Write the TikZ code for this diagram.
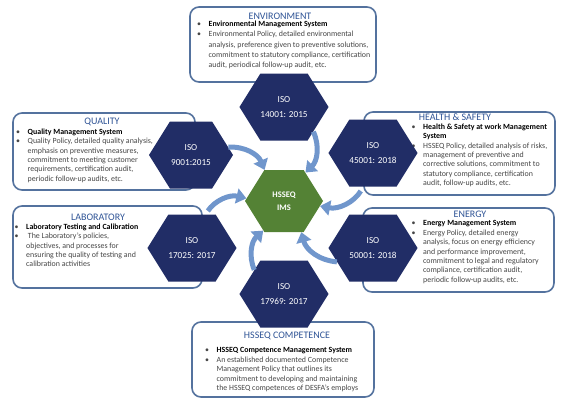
\documentclass[tikz,border=0pt]{standalone}
\usepackage{fontspec}
\setmainfont{Carlito}
\usetikzlibrary{shapes.symbols,arrows.meta}
\definecolor{navy}{RGB}{33,45,102}
\definecolor{leaf}{RGB}{84,130,53}
\definecolor{sky}{RGB}{112,150,204}
\definecolor{frame}{RGB}{84,114,158}
\definecolor{head}{RGB}{47,84,150}
\definecolor{ink}{RGB}{70,70,70}
\newcommand\bul{\makebox[11.5pt][l]{\textbullet}}
\newcommand\ind{\hspace*{11.5pt}}
\newcommand\hd[1]{\textcolor{black}{\textbf{#1}}}
\tikzset{hexa/.style={signal,signal to=east and west,signal pointer angle=116,minimum width=84pt,minimum height=67pt,inner sep=0pt,fill=navy,text=white,font=\fontsize{9.2}{14.5}\selectfont,align=center},
  card/.style={draw=frame,line width=1.6pt,rounded corners=9pt,fill=white,inner sep=0pt},
  cardtitle/.style={text=head,font=\fontsize{10}{12}\selectfont,inner sep=0pt},
  body/.style={text=ink,font=\fontsize{7.9}{9.4}\selectfont,align=left,inner sep=0pt,anchor=north west},
  flow/.style={sky,line width=5pt,-{Triangle[width=15pt,length=10pt]},bend left=35}}

\begin{document}
\begin{tikzpicture}[x=1pt,y=-1pt]
  \useasboundingbox (0,0) rectangle (561,405);

  \node (envbox)    [card] [minimum width=186pt,minimum height=75pt] at (283,44.5)  {};
  \node (qualbox)   [card] [minimum width=182pt,minimum height=77pt] at (104,151.5) {};
  \node (healthbox) [card] [minimum width=191pt,minimum height=83pt] at (459.5,153.5) {};
  \node (labbox)    [card] [minimum width=189pt,minimum height=82pt] at (107.5,247) {};
  \node (enerbox)   [card] [minimum width=191pt,minimum height=84pt] at (458.5,250) {};
  \node (compbox)   [card] [minimum width=182pt,minimum height=75pt] at (283,359.5) {};

  \node (envt)    [cardtitle] at (280,16)  {ENVIRONMENT};
  \node (qualt)   [cardtitle] at (102,122) {QUALITY};
  \node (healtht) [cardtitle] at (455,117) {HEALTH \& SAFETY};
  \node (labt)    [cardtitle] at (98,217)  {LABORATORY};
  \node (enert)   [cardtitle] at (470,214) {ENERGY};
  \node (compt)   [cardtitle] at (287,336) {HSSEQ COMPETENCE};

  \node (envtxt) [body] [font=\fontsize{7.9}{10.2}\selectfont] at (197,21)
    {\bul\hd{Environmental Management System}\\
     \bul Environmental Policy, detailed environmental\\
     \ind analysis, preference given to preventive solutions,\\
     \ind commitment to statutory compliance, certification\\
     \ind audit, periodical follow-up audit, etc.};
  \node (qualtxt) [body] at (16,128.5)
    {\bul\hd{Quality Management System}\\
     \bul Quality Policy, detailed quality analysis,\\
     \ind emphasis on preventive measures,\\
     \ind commitment to meeting customer\\
     \ind requirements, certification audit,\\
     \ind periodic follow-up audits, etc.};
  \node (healthtxt) [body] at (411.5,123.5)
    {\bul\hd{Health \& Safety at work Management}\\
     \ind\hd{System}\\
     \bul HSSEQ Policy, detailed analysis of risks,\\
     \ind management of preventive and\\
     \ind corrective solutions, commitment to\\
     \ind statutory compliance, certification\\
     \ind audit, follow-up audits, etc.};
  \node (labtxt) [body] at (14.5,223.5)
    {\bul\hd{Laboratory Testing and Calibration}\\
     \bul\ The Laboratory's policies,\\
     \ind objectives, and processes for\\
     \ind ensuring the quality of testing and\\
     \ind calibration activities};
  \node (enertxt) [body] at (411.5,220.5)
    {\bul\hd{Energy Management System}\\
     \bul Energy Policy, detailed energy\\
     \ind analysis, focus on energy efficiency\\
     \ind and performance improvement,\\
     \ind commitment to legal and regulatory\\
     \ind compliance, certification audit,\\
     \ind periodic follow-up audits, etc.};
  \node (comptxt) [body] at (205,347.5)
    {\bul\hd{HSSEQ Competence Management System}\\
     \bul An established documented Competence\\
     \ind Management Policy that outlines its\\
     \ind commitment to developing and maintaining\\
     \ind the HSSEQ competences of DESFA's employs};

  \node (ims)    [hexa] [fill=leaf,minimum width=78pt,minimum height=62pt,font=\fontsize{8.5}{13}\selectfont\bfseries] at (284,201) {HSSEQ\\IMS};
  \node (env)    [hexa] at (284,107) {ISO\\14001: 2015};
  \node (qual)   [hexa] at (191,155) {ISO\\9001:2015};
  \node (health) [hexa] at (373,153) {ISO\\45001: 2018};
  \node (lab)    [hexa] at (192,248) {ISO\\17025: 2017};
  \node (ener)   [hexa] at (373,248) {ISO\\50001: 2018};
  \node (comp)   [hexa] at (284,294) {ISO\\17969: 2017};

  \draw[flow] (qual.12)     to (ims.122);
  \draw[flow] (env.-40)     to (ims.53);
  \draw[flow,shorten <=5pt] (health.-106) to (ims.-8);
  \draw[flow,shorten <=4pt] (lab.68)      to (ims.176);
  \draw[flow] (comp.141)    to (ims.-125);
  \draw[flow] (ener.201)    to (ims.-61);
\end{tikzpicture}
\end{document}
